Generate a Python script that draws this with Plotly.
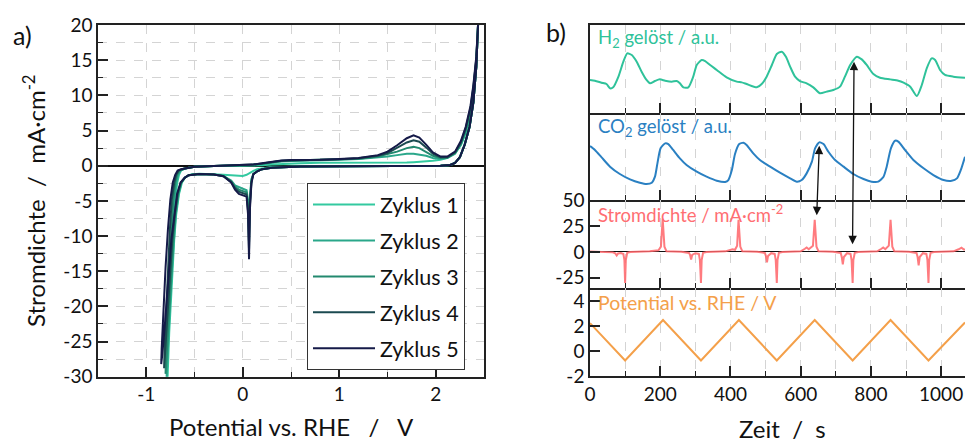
import plotly.graph_objects as go

W, H = 965, 444
FONT = "Lato"

# ---------------- panel a) cyclic voltammograms ----------------
E_anodic = [-0.6, -0.5, -0.3, -0.1, 0.0, 0.1, 0.2, 0.3, 0.4, 0.5, 0.6, 0.8, 1.0, 1.2, 1.4, 1.5,
            1.6, 1.7, 1.77, 1.83, 1.9, 1.97, 2.05, 2.12, 2.2, 2.26, 2.31, 2.36, 2.39, 2.42, 2.44]
E_cathodic = [2.44, 2.42, 2.39, 2.35, 2.3, 2.25, 2.2, 2.15, 2.05, 1.8, 1.5, 1.0, 0.6, 0.3, 0.2,
              0.15, 0.11, 0.09, 0.075, 0.065, 0.055, 0.04, 0.0, -0.04, -0.08, -0.12, -0.2, -0.3, -0.45, -0.52]

J1_anodic = [-0.4, -0.15, -0.05, -0.05, -0.05, 0.0, 0.05, 0.15, 0.25, 0.3, 0.35, 0.4, 0.4, 0.4, 0.35, 0.35,
             0.4, 0.45, 0.5, 0.55, 0.6, 0.7, 0.85, 1.1, 1.8, 2.9, 4.6, 7.3, 10.3, 14.5, 20.5]
J2_anodic = [-0.4, -0.15, -0.05, 0.0, 0.04, 0.1, 0.25, 0.45, 0.6, 0.68, 0.7, 0.75, 0.85, 0.95, 1.15, 1.3,
             1.5, 1.7, 1.7, 1.6, 1.4, 1.1, 1.0, 1.1, 1.7, 3.0, 4.8, 7.6, 10.6, 14.8, 20.5]
J3_anodic = [-0.4, -0.15, -0.05, 0.0, 0.05, 0.12, 0.28, 0.5, 0.65, 0.72, 0.75, 0.8, 0.9, 1.0, 1.3, 1.6,
             2.0, 2.5, 2.7, 2.5, 2.0, 1.4, 1.1, 1.15, 1.8, 3.1, 5.0, 7.9, 10.9, 15.0, 20.5]
J4_anodic = [-0.4, -0.15, -0.05, 0.0, 0.05, 0.15, 0.3, 0.55, 0.7, 0.75, 0.78, 0.82, 0.92, 1.05, 1.4, 1.8,
             2.5, 3.3, 3.6, 3.4, 2.6, 1.7, 1.2, 1.2, 1.9, 3.3, 5.3, 8.2, 11.2, 15.2, 20.5]
J5_anodic = [-0.4, -0.15, -0.05, 0.0, 0.05, 0.15, 0.35, 0.6, 0.75, 0.8, 0.8, 0.85, 0.95, 1.1, 1.5, 2.0,
             2.9, 3.9, 4.3, 4.0, 3.0, 1.9, 1.3, 1.3, 2.0, 3.5, 5.5, 8.5, 11.5, 15.5, 20.5]

J1_cathodic = [20.5, 14, 9, 5.5, 3.0, 1.2, 0.4, 0.1, 0.0, 0.0, -0.05, -0.05, -0.1, -0.2, -0.35,
               -0.5, -0.75, -0.9, -1.0, -1.1, -1.2, -1.3, -1.45, -1.45, -1.4, -1.35, -1.3, -1.2, -1.15, -1.2]
J2_cathodic = [20.5, 14, 9, 5.5, 3.0, 1.2, 0.4, 0.1, 0.0, 0.0, -0.05, -0.05, -0.1, -0.3, -0.5,
               -0.8, -1.2, -1.9, -4.2, -9.0, -5.0, -3.5, -3.3, -3.1, -2.8, -2.1, -1.45, -1.25, -1.2, -1.25]
J3_cathodic = [20.5, 14, 9, 5.5, 3.0, 1.2, 0.4, 0.1, 0.0, 0.0, -0.05, -0.05, -0.1, -0.3, -0.5,
               -0.8, -1.2, -2.1, -5.0, -11.0, -6.0, -3.8, -3.6, -3.4, -3.0, -2.2, -1.45, -1.25, -1.2, -1.25]
J4_cathodic = [20.5, 14, 9, 5.5, 3.0, 1.2, 0.4, 0.1, 0.0, 0.0, -0.05, -0.05, -0.1, -0.3, -0.5,
               -0.8, -1.2, -2.3, -5.5, -12.0, -6.5, -4.1, -3.9, -3.7, -3.2, -2.3, -1.5, -1.25, -1.2, -1.25]
J5_cathodic = [20.5, 14, 9, 5.5, 3.0, 1.2, 0.4, 0.1, 0.0, 0.0, -0.05, -0.05, -0.1, -0.3, -0.5,
               -0.8, -1.2, -2.5, -6.0, -13.3, -7.0, -4.4, -4.2, -4.0, -3.4, -2.4, -1.5, -1.25, -1.2, -1.25]

E1_her = [-0.56, -0.6, -0.63, -0.66, -0.69, -0.71, -0.73, -0.75, -0.765, -0.775, -0.78,
          -0.775, -0.76, -0.74, -0.72, -0.7, -0.68, -0.66, -0.64, -0.62, -0.6]
J1_her = [-1.35, -1.7, -2.4, -4.0, -7.0, -10.5, -15, -20, -24.5, -28.5, -30.5,
          -28, -22.5, -15.5, -9.5, -5.0, -2.5, -1.3, -0.7, -0.5, -0.4]
E2_her = [-0.56, -0.6, -0.635, -0.665, -0.695, -0.715, -0.735, -0.755, -0.77, -0.783, -0.79,
          -0.785, -0.77, -0.75, -0.73, -0.71, -0.69, -0.67, -0.645, -0.62, -0.6]
J2_her = [-1.35, -1.7, -2.4, -4.0, -7.0, -10.5, -15, -20, -24.5, -28.5, -30.5,
          -28, -22.5, -15.5, -9.5, -5.0, -2.5, -1.3, -0.7, -0.5, -0.4]
E3_her = [-0.56, -0.6, -0.64, -0.67, -0.7, -0.72, -0.74, -0.76, -0.78, -0.793, -0.80,
          -0.795, -0.78, -0.76, -0.74, -0.72, -0.7, -0.68, -0.655, -0.625, -0.6]
J3_her = [-1.35, -1.7, -2.4, -4.0, -7.0, -10.5, -15, -20, -25, -28.2, -29.6,
          -27, -22, -15, -9.0, -4.8, -2.4, -1.3, -0.7, -0.5, -0.4]
E4_her = [-0.56, -0.6, -0.64, -0.675, -0.705, -0.73, -0.75, -0.77, -0.79, -0.808, -0.815,
          -0.81, -0.795, -0.775, -0.755, -0.735, -0.71, -0.69, -0.665, -0.63, -0.6]
J4_her = [-1.35, -1.7, -2.4, -4.0, -7.0, -10.5, -15, -20, -24.5, -27.8, -28.8,
          -26, -21, -14.5, -9.0, -4.8, -2.4, -1.3, -0.7, -0.5, -0.4]
E5_her = [-0.56, -0.6, -0.645, -0.68, -0.71, -0.74, -0.765, -0.79, -0.815, -0.835, -0.845,
          -0.84, -0.825, -0.8, -0.775, -0.75, -0.725, -0.7, -0.675, -0.64, -0.6]
J5_her = [-1.35, -1.7, -2.4, -4.0, -7.0, -10.5, -15, -20, -24, -27, -28.2,
          -26, -21, -14.5, -9.0, -4.8, -2.4, -1.3, -0.7, -0.5, -0.4]

cycle_names = ["Zyklus 1", "Zyklus 2", "Zyklus 3", "Zyklus 4", "Zyklus 5"]
cycle_colors = ["#33c9a0", "#2aa78a", "#23896f", "#1b4a50", "#151a48"]

# ---------------- panel b) time series ----------------
H2_t = [0, 14, 33, 47, 57, 66, 81, 95, 106, 119, 133, 147, 161, 171, 185, 199, 214, 233, 247, 256,
        266, 280, 294, 304, 318, 328, 342, 361, 389, 418, 432, 446, 475, 489, 503, 518, 532, 546, 558, 570,
        584, 598, 617, 636, 655, 674, 693, 712, 726, 741, 760, 774, 788, 807, 826, 855, 878, 893, 912, 931,
        945, 959, 973, 983, 997, 1011, 1035, 1068]
H2_v = [3.73, 3.65, 3.42, 3.27, 2.78, 2.89, 4.11, 5.82, 6.77, 6.58, 5.82, 4.68, 3.73, 3.35, 3.61, 3.80, 3.65, 3.54, 3.61, 3.35,
        2.89, 2.89, 4.11, 5.44, 6.01, 5.89, 5.44, 4.87, 4.03, 3.54, 3.46, 3.27, 2.89, 3.27, 4.11, 5.44, 6.69, 6.96, 6.39, 5.25,
        4.11, 3.61, 3.35, 2.89, 2.21, 2.40, 2.59, 2.97, 4.11, 5.44, 6.39, 6.08, 5.44, 4.41, 3.99, 3.80, 3.65, 3.42, 2.97, 1.90,
        3.16, 5.06, 6.20, 6.01, 4.87, 4.30, 4.11, 3.99]

CO2_t = [0, 14, 33, 57, 85, 114, 142, 161, 176, 185, 192, 201, 214, 223, 237, 256, 275, 304, 332, 361,
         385, 394, 404, 413, 425, 437, 446, 465, 484, 513, 541, 570, 589, 603, 617, 632, 641, 653, 665, 679,
         698, 722, 750, 779, 802, 821, 836, 845, 857, 869, 878, 897, 921, 950, 978, 1007, 1030, 1045, 1056, 1068]
CO2_v = [6.18, 5.73, 4.89, 3.82, 2.98, 2.37, 1.98, 1.83, 1.98, 2.67, 4.20, 5.92, 6.49, 6.41, 5.73, 4.77, 4.01, 3.24, 2.67, 2.21,
         2.06, 2.29, 3.44, 5.27, 6.41, 6.56, 6.30, 5.34, 4.58, 3.82, 3.13, 2.48, 2.10, 2.29, 3.05, 4.39, 5.92, 6.60, 6.41, 5.53,
         4.58, 3.82, 2.98, 2.40, 2.10, 2.10, 2.67, 3.82, 5.92, 6.79, 6.68, 5.73, 4.58, 3.63, 2.86, 2.29, 2.21, 2.48, 3.44, 4.96]

J_t = [0, 40, 65, 72, 76, 80, 88, 95, 98, 100, 102, 106, 115, 170, 185, 195, 202, 207, 212, 218,
       260, 282, 285, 288, 291, 300, 310, 313, 316, 318, 322, 332, 385, 400, 406, 413, 419, 423, 428, 434,
       476, 498, 501, 504, 507, 516, 526, 529, 532, 534, 538, 548, 600, 612, 617, 623, 635, 640, 645, 651,
       692, 714, 717, 720, 723, 732, 742, 745, 748, 750, 754, 764, 818, 830, 835, 841, 851, 856, 861, 867,
       908, 930, 933, 936, 939, 948, 958, 961, 964, 966, 970, 980, 1035, 1050, 1058, 1064, 1068]
J_v = [0.3, 0.2, -0.5, -1.5, -3.5, -1.5, -1.2, -2, -8, -30, -8, -1, -0.2, 0.5, 1.2, 1.5, 5, 32, 5, 0.5,
       0, -1, -3, -7.5, -3, -1.3, -2, -8, -30, -8, -1, -0.2, 0.5, 1.5, 2.5, 2, 6, 31, 5, 0.5,
       0, -1, -4, -10, -4, -1.3, -2, -8, -30, -8, -1, -0.2, 0.5, 3, 4.2, 2.5, 6, 31, 5, 0.5,
       0, -1, -5, -12, -5, -1.3, -2, -8, -30, -8, -1, -0.2, 0.5, 3, 4.2, 2.5, 6, 31, 5, 0.5,
       0, -1, -5, -13, -5, -1.3, -2, -8, -30, -8, -1, -0.2, 0.5, 2.5, 4, 2.5, 2]

U_t = [0, 100, 208, 316, 424, 532, 640, 748, 856, 964, 1068]
U_v = [2.25, -0.75, 2.5, -0.75, 2.5, -0.75, 2.5, -0.75, 2.5, -0.75, 2.3]

# tick labels
cv_x_ticks = [-1, 0, 1, 2]
cv_x_labels = ["-1", "0", "1", "2"]
cv_y_ticks = [-30, -25, -20, -15, -10, -5, 0, 5, 10, 15, 20]
cv_y_labels = ["-30", "-25", "-20", "-15", "-10", "-5", "0", "5", "10", "15", "20"]
t_ticks = [0, 200, 400, 600, 800, 1000]
t_labels = ["0", "200", "400", "600", "800", "1000"]
j_ticks = [-25, 0, 25, 50]
j_labels = ["-25", "0", "25", "50"]
u_ticks = [-2, 0, 2, 4]
u_labels = ["-2", "0", "2", "4"]


def px(x):
    return x / W


def py(y):
    return 1 - y / H


fig = go.Figure()

anodic = [J1_anodic, J2_anodic, J3_anodic, J4_anodic, J5_anodic]
cathodic = [J1_cathodic, J2_cathodic, J3_cathodic, J4_cathodic, J5_cathodic]
her_E = [E1_her, E2_her, E3_her, E4_her, E5_her]
her_J = [J1_her, J2_her, J3_her, J4_her, J5_her]
for i in range(5):
    fig.add_trace(go.Scatter(
        x=E_anodic + E_cathodic + her_E[i],
        y=anodic[i] + cathodic[i] + her_J[i],
        mode="lines", name=cycle_names[i], legendgroup=cycle_names[i],
        line=dict(color=cycle_colors[i], width=2),
        xaxis="x", yaxis="y"))

GREEN = "#2fc29a"
BLUE = "#2a80c2"
RED = "rgba(255,100,105,0.85)"
ORANGE = "#f4a04a"

fig.add_trace(go.Scatter(x=H2_t, y=H2_v, mode="lines", line=dict(color=GREEN, width=2, shape="spline", smoothing=0.6),
                         showlegend=False, xaxis="x2", yaxis="y2"))
fig.add_trace(go.Scatter(x=CO2_t, y=CO2_v, mode="lines", line=dict(color=BLUE, width=2, shape="spline", smoothing=0.6),
                         showlegend=False, xaxis="x3", yaxis="y3"))
fig.add_trace(go.Scatter(x=J_t, y=J_v, mode="lines", line=dict(color=RED, width=2),
                         showlegend=False, xaxis="x4", yaxis="y4"))
fig.add_trace(go.Scatter(x=U_t, y=U_v, mode="lines", line=dict(color=ORANGE, width=2),
                         showlegend=False, xaxis="x5", yaxis="y5"))

tickfont = dict(family=FONT, size=19, color="#111")
LINE = "#222"
GRID = "#d4d4d4"

common_x = dict(showline=True, linecolor=LINE, linewidth=1.5, mirror=True, ticks="inside",
                tickcolor=LINE, tickwidth=1.5, zeroline=False, tickfont=tickfont, automargin=False,
                showgrid=True, gridcolor=GRID, griddash="dash", gridwidth=1)

left_dom_x = [px(98), px(484)]
right_dom_x = [px(590), 1.0]

layout = dict(
    template="none",
    width=W, height=H, margin=dict(l=0, r=0, t=0, b=0, pad=0, autoexpand=False),
    paper_bgcolor="white", plot_bgcolor="white",
    font=dict(family=FONT, color="#111"),
    xaxis=dict(common_x, domain=left_dom_x, anchor="y", range=[-1.5, 2.5],
               tickmode="array", tickvals=cv_x_ticks, ticktext=cv_x_labels, ticklen=10,
               minor=dict(tickmode="linear", tick0=0, dtick=0.5, ticks="inside", ticklen=5,
                          tickcolor=LINE, tickwidth=1.2, showgrid=True, gridcolor=GRID, griddash="dash")),
    yaxis=dict(showline=True, linecolor=LINE, linewidth=1.5, mirror=True, ticks="inside",
               tickcolor=LINE, tickwidth=1.5, ticklen=10, tickfont=tickfont, automargin=False,
               domain=[py(376.7), py(25)], anchor="x", range=[-30, 20],
               tickmode="array", tickvals=cv_y_ticks, ticktext=cv_y_labels,
               showgrid=True, gridcolor=GRID, griddash="dash",
               zeroline=True, zerolinecolor="#111", zerolinewidth=1.5,
               minor=dict(tickmode="linear", tick0=0, dtick=2.5, ticks="inside", ticklen=5,
                          tickcolor=LINE, tickwidth=1.2, showgrid=True, gridcolor=GRID, griddash="dash")),
)

right_y_domains = {
    2: [py(112.7), py(25)],
    3: [py(200), py(112.7)],
    4: [py(287.7), py(200)],
    5: [py(376), py(287.7)],
}
for k in range(2, 6):
    ax = dict(common_x, domain=right_dom_x, anchor=f"y{k}", range=[0, 1068],
              tickmode="array", tickvals=t_ticks, ticktext=t_labels, ticklen=10,
              showticklabels=(k == 5), mirror=(k == 2),
              minor=dict(tickmode="linear", tick0=0, dtick=100, ticks="inside", ticklen=5,
                         tickcolor=LINE, tickwidth=1.2, showgrid=True, gridcolor=GRID,
                         griddash="dash"))
    if k != 5:
        ax["matches"] = "x5"
    layout[f"xaxis{k}"] = ax

ybase = dict(showline=True, linecolor=LINE, linewidth=1.5, mirror=False, showgrid=False, automargin=False)
layout["yaxis2"] = dict(ybase, domain=right_y_domains[2], anchor="x2", range=[0, 10],
                        showticklabels=False, ticks="", zeroline=False)
layout["yaxis3"] = dict(ybase, domain=right_y_domains[3], anchor="x3", range=[0, 10],
                        showticklabels=False, ticks="", zeroline=False)
layout["yaxis4"] = dict(ybase, domain=right_y_domains[4], anchor="x4", range=[-34.6, 50.05],
                        ticks="inside", ticklen=10, tickwidth=1.5, tickcolor=LINE,
                        tickmode="array", tickvals=j_ticks, ticktext=j_labels, tickfont=tickfont,
                        zeroline=True, zerolinecolor="#111", zerolinewidth=1.2)
layout["yaxis5"] = dict(ybase, domain=right_y_domains[5], anchor="x5", range=[-2, 5.1],
                        ticks="inside", ticklen=10, tickwidth=1.5, tickcolor=LINE,
                        tickmode="array", tickvals=u_ticks, ticktext=u_labels, tickfont=tickfont,
                        zeroline=False)

layout["legend"] = dict(x=px(307), y=py(183), xanchor="left", yanchor="top",
                        bgcolor="white", bordercolor="#333", borderwidth=1,
                        font=dict(family=FONT, size=21.5, color="#111"),
                        tracegroupgap=5, itemwidth=62, traceorder="grouped")
layout["showlegend"] = True

sp = "\u00a0"


def label(text, x, y, size, color="#111", xanchor="center", angle=0):
    return dict(text=text, x=px(x), y=py(y), xref="paper", yref="paper", showarrow=False,
                xanchor=xanchor, yanchor="middle", textangle=angle,
                font=dict(family=FONT, size=size, color=color))


annotations = [
    label("a)", 22, 35, 25),
    label("b)", 556, 32, 25),
    label(f"Stromdichte{sp}{sp}/{sp}{sp}mA·cm<sup>-2</sup>", 34, 201, 24, angle=-90),
    label(f"Potential vs. RHE{sp}{sp}{sp}/{sp}{sp}{sp}V", 291, 426, 24),
    label(f"Zeit{sp}{sp}/{sp}{sp}s", 782, 428, 24),
    label("H<sub>2</sub> gelöst / a.u.", 596, 39, 18.5, GREEN, "left"),
    label("CO<sub>2</sub> gelöst / a.u.", 596, 127, 18.5, BLUE, "left"),
    label("Stromdichte / mA·cm<sup>-2</sup>", 596, 214, 18.5, "#ff6e72", "left"),
    label("Potential vs. RHE / V", 596, 302, 19.5, ORANGE, "left"),
    # arrows
    dict(text="", x=752, y=py(61.7), xref="x5", yref="paper", ax=-1.5, ay=184, axref="pixel", ayref="pixel",
         showarrow=True, arrowside="end+start", arrowhead=2, startarrowhead=2, arrowsize=1.3, startarrowsize=1.3,
         arrowwidth=1.3, arrowcolor="#111", standoff=0, startstandoff=0),
    dict(text="", x=653, y=py(145.7), xref="x5", yref="paper", ax=-2.6, ay=71, axref="pixel", ayref="pixel",
         showarrow=True, arrowside="end+start", arrowhead=2, startarrowhead=2, arrowsize=1.3, startarrowsize=1.3,
         arrowwidth=1.3, arrowcolor="#111", standoff=0, startstandoff=0),
]
layout["annotations"] = annotations

fig.update_layout(**layout)
fig.write_html("out.html", config={"displayModeBar": False},
               post_script="document.body.style.margin='0px';")
